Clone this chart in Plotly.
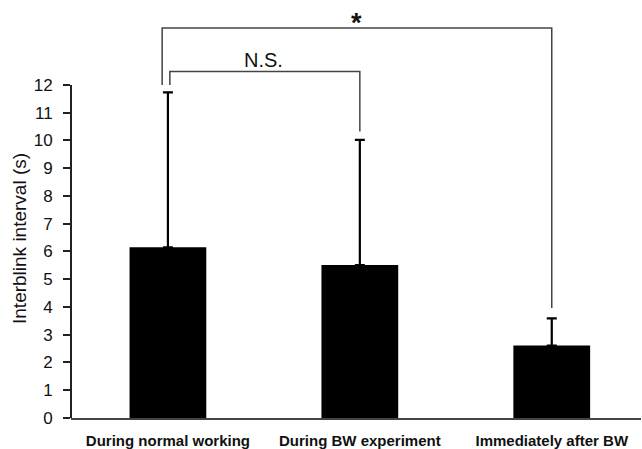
import plotly.graph_objects as go

categories = ["During normal working", "During BW experiment", "Immediately after BW"]
means = [6.15, 5.51, 2.61]
err_upper = [11.73, 10.02, 3.59]
errors = [u - m for u, m in zip(err_upper, means)]
y_ticks = list(range(0, 13))

# significance brackets: x positions (category index units) and y levels
ns_x = [0.01, 0.01, 1.0, 1.0]
ns_y = [12.0, 12.48, 12.48, 10.32]
star_x = [-0.03, -0.03, 2.0, 2.0]
star_y = [12.0, 14.05, 14.05, 3.96]
labels = ["N.S.", "<b>*</b>"]
label_x = [0.5, 0.98]
label_y = [12.9, 14.22]
label_size = [20, 27]

xidx = list(range(len(categories)))

fig = go.Figure()
fig.add_trace(go.Bar(
    x=xidx, y=means, width=0.4,
    marker=dict(color="black", line=dict(width=0)),
    error_y=dict(type="data", symmetric=False, array=errors,
                 arrayminus=[0] * len(means),
                 color="black", thickness=2.2, width=5),
    showlegend=False,
))
for bx, by in [(ns_x, ns_y), (star_x, star_y)]:
    fig.add_trace(go.Scatter(x=bx, y=by, mode="lines",
                             line=dict(color="#444444", width=1.5),
                             showlegend=False, hoverinfo="skip"))

for t, lx, ly, fs in zip(labels, label_x, label_y, label_size):
    fig.add_annotation(x=lx, y=ly, text=t, showarrow=False,
                       font=dict(family="Arial, Liberation Sans", size=fs, color="#111"),
                       xanchor="center", yanchor="middle")

# y axis line from 0 to 12
fig.add_shape(type="line", xref="paper", yref="y", x0=0, x1=0, y0=0, y1=max(y_ticks),
              line=dict(color="#222222", width=2))

fig.add_annotation(xref="paper", yref="y", x=0, y=6.45, xshift=-51,
                   text="Interblink interval (s)", textangle=-90, showarrow=False,
                   font=dict(family="Arial, Liberation Sans", size=19, color="#111"),
                   xanchor="center", yanchor="middle")

fig.update_layout(
    width=642, height=449,
    margin=dict(l=71, r=1, t=0, b=31),
    paper_bgcolor="white", plot_bgcolor="white",
    font=dict(family="Arial, Liberation Sans", color="#111"),
    xaxis=dict(range=[-0.505, 2.465], tickvals=xidx, ticktext=[f"<b>{c}</b>" for c in categories],
               showline=True, linecolor="#444444", linewidth=2, ticks="",
               showgrid=False, zeroline=False, ticklabelstandoff=8,
               tickfont=dict(size=15, color="#111")),
    yaxis=dict(range=[0, 15.06], tickvals=y_ticks, showline=False, ticks="outside",
               ticklen=7, tickwidth=2, tickcolor="#222222", showgrid=False, zeroline=False,
               ticklabelstandoff=7, tickfont=dict(size=17, color="#111")),
)

fig.write_html("out.html", config={"displayModeBar": False},
               post_script="document.body.style.margin='0';document.body.style.padding='0';")
